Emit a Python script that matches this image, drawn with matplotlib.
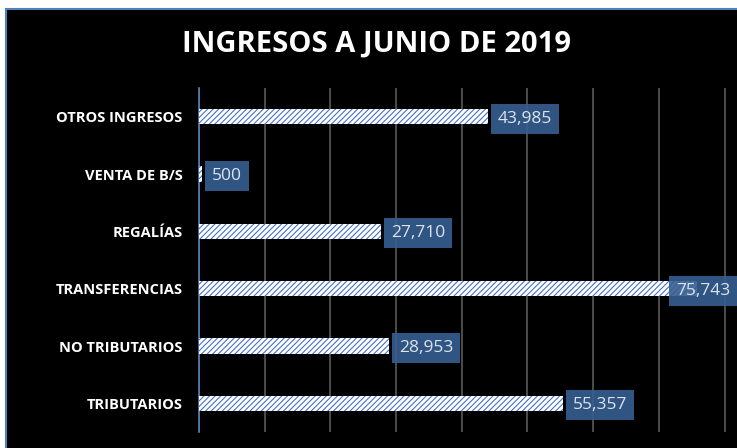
import matplotlib.pyplot as plt
from matplotlib.patches import Rectangle
import numpy as np

# data
categorias = ["TRIBUTARIOS", "NO TRIBUTARIOS", "TRANSFERENCIAS",
              "REGALÍAS", "VENTA DE B/S", "OTROS INGRESOS"]
valores = [55357, 28953, 75743, 27710, 500, 43985]
titulo = "INGRESOS A JUNIO DE 2019"

plt.rcParams['hatch.linewidth'] = 0.8
plt.rcParams['font.family'] = ['Open Sans', 'DejaVu Sans']

fig = plt.figure(figsize=(7.37, 4.48), dpi=100, facecolor='white')

# black chart area with blue border (background axes)
bg = fig.add_axes([0, 0, 1, 1], zorder=-1)
bg.set_xlim(0, 737)
bg.set_ylim(448, 0)
bg.axis('off')
bg.add_patch(Rectangle((6, 9), 740, 450, facecolor='black',
                       edgecolor='#4F81BD', linewidth=1.5))

ax = fig.add_axes([199 / 737, 16 / 448, 1 - 199 / 737, (432 - 88) / 448])
ax.set_facecolor('none')

y = np.arange(len(categorias))
ax.barh(y, valores, height=0.27, color='white', edgecolor='#4472C4',
        hatch='//////', linewidth=0, zorder=3)

xmax = 81890
ax.set_xlim(0, xmax)
ax.set_ylim(-0.5, len(categorias) - 0.5)
ax.set_xticks(np.arange(0, xmax, 10000))
ax.xaxis.grid(True, color='#595959', linewidth=1.2)
ax.set_axisbelow(True)
ax.tick_params(axis='x', length=0, labelbottom=False)
ax.tick_params(axis='y', length=0, pad=12)
ax.set_yticks(y)
ax.set_yticklabels(categorias, color='white', fontweight='bold', fontsize=10.5)

for s in ['top', 'right', 'bottom']:
    ax.spines[s].set_visible(False)
ax.spines['left'].set_color('#5B7FB5')
ax.spines['left'].set_linewidth(1.2)

for yi, v in zip(y, valores):
    xpos = min(v + 1500, xmax - 9300)
    ax.text(xpos, yi, f"{v:,}", color='#DDE4EF', fontsize=12.5,
            va='center_baseline', ha='left', zorder=5,
            bbox=dict(boxstyle='square,pad=0.4', facecolor='#365F91',
                      edgecolor='none', alpha=0.9))

fig.text(377 / 737, 1 - 44 / 448, titulo, color='white', fontsize=21,
         fontweight='bold', ha='center', va='center')

fig.savefig('out.png', dpi=100, facecolor='white')
